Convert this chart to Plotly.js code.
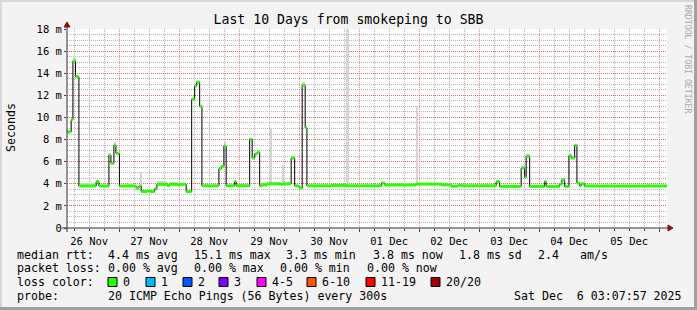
<!DOCTYPE html>
<html><head><meta charset="utf-8">
<script src="https://cdn.plot.ly/plotly-3.0.1.min.js"></script>
<style>html,body{margin:0;padding:0;background:#f3f3f3}</style>
</head><body><div id="chart" style="width:697px;height:310px"></div>
<script>
// hours since 2025-11-26 00:00 (median rtt step starts) and median rtt in ms
const medH = [3.13,4.8,5.5,6.55,7.9,14.8,15.9,19.9,20.7,21.9,22.7,24.1,30.8,31.9,32.8,35.1,36.4,38.2,39.1,43.1,44.3,47.5,48.3,50.8,53.0,54.2,55.0,56.2,57.1,63.9,64.8,65.9,66.8,70.2,70.8,76.2,77.2,78.2,79.2,80.2,81.1,83.1,88.7,89.5,92.8,94.2,95.5,96.3,97.2,98.4,99.1,108.7,114.7,121.5,128.9,130.2,142.8,152.8,156.8,159.5,160.7,174.8,176.2,184.8,186.2,186.8,188.2,194.2,194.8,200.2,201.1,202.2,203.9,204.8,206.2,207.1,208.2,208.8,210.2];
const medV = [8.7,9.8,15.1,13.7,3.8,4.2,3.8,6.6,5.85,7.5,6.75,3.8,3.6,3.8,3.3,3.35,3.3,3.55,3.95,3.85,3.95,3.9,3.95,3.3,11.65,12.85,13.2,11.0,3.82,5.36,5.58,7.42,3.82,4.2,3.82,8.03,6.33,6.7,6.85,3.82,3.9,4.0,3.95,4.0,6.33,3.82,3.75,3.6,12.9,9.06,3.82,3.85,3.82,3.82,4.06,3.9,3.97,3.9,3.78,3.87,3.82,4.2,3.76,5.42,4.58,6.48,3.76,4.2,3.76,3.97,4.36,3.76,6.55,6.33,7.48,4.06,3.8,4.0,3.8];
const endH = 243.13;
// smoke (ping spread) blocks: start hour, end hour, low ms, high ms
const smokeH0 = [5.5,7.9,21.9,27.5,32.3,39.1,44.3,65.9,70.2,71.5,84.2,89.2,97.2,114.9,128.9,137.0,142.9,184.8,186.8,201.1,235.0];
const smokeH1 = [6.55,14.8,22.7,29.0,33.1,43.1,47.5,66.8,70.8,74.7,85.0,90.0,98.4,116.0,130.2,141.0,143.7,186.2,188.2,202.2,236.5];
const smokeLo = [15.0,3.8,7.4,3.8,3.6,3.9,3.9,7.3,4.1,3.8,3.9,3.9,12.8,3.8,4.0,3.9,3.9,5.3,6.4,4.3,3.75];
const smokeHi = [15.4,4.03,7.8,4.05,5.1,4.24,4.15,7.75,4.3,4.0,9.06,5.67,13.2,18.5,4.2,4.06,11.0,5.6,6.65,4.5,4.0];

const yTickVals = [0,2,4,6,8,10,12,14,16,18];
const yTickText = ["0","2 m","4 m","6 m","8 m","10 m","12 m","14 m","16 m","18 m"];

const lossLabels = ["0","1","2","3","4-5","6-10","11-19","20/20"];
const lossColors = ["#26ff00","#00b8ff","#0059ff","#7e00ff","#ff00ff","#ff5500","#ff0000","#a10000"];

const line1 = [["median rtt:",16],["4.4 ms avg",107],["15.1 ms max",193],["3.3 ms min",285],["3.8 ms now",372],["1.8 ms sd",458],["2.4",537],["am/s",579]];
const line2 = [["packet loss:",16],["0.00 % avg",107],["0.00 % max",193],["0.00 % min",279],["0.00 % now",366]];
const line4 = [["probe:",16],["20 ICMP Echo Pings (56 Bytes) every 300s",107],["Sat Dec\u00a0\u00a06 03:07:57 2025",513]];

const BASE = Date.UTC(2025,10,26,0,0,0);
function hd(h){ const d=new Date(BASE+h*3600000); return d.toISOString().replace('T',' ').slice(0,19); }

const stepX = medH.map(hd).concat([hd(endH)]);
const stepY = medV.concat([medV[medV.length-1]]);
const gX=[], gY=[];
for(let i=0;i<medH.length;i++){
  const h1 = i+1<medH.length?medH[i+1]:endH;
  gX.push(hd(medH[i]),hd(h1),null); gY.push(medV[i],medV[i],null);
}
const sX = smokeH0.map((h,i)=>hd((h+smokeH1[i])/2));
const sW = smokeH0.map((h,i)=>(smokeH1[i]-h)*3600000);
const sY = smokeHi.map((v,i)=>v-smokeLo[i]);

const traces = [
  {type:'bar', x:sX, y:sY, base:smokeLo, width:sW, marker:{color:'#d4d4d4', line:{width:0}}, hoverinfo:'skip', showlegend:false},
  {type:'scatter', mode:'lines', x:stepX, y:stepY, line:{shape:'hv', color:'#000', width:1}, hoverinfo:'skip', showlegend:false},
  {type:'scatter', mode:'lines', x:gX, y:gY, line:{color:'#26ff00', width:3}, connectgaps:false, hoverinfo:'skip', showlegend:false}
];

const fx = x => (x-67)/600;
const fy = y => (228-y)/199;
const MONO = 'DejaVu Sans Mono, monospace';

const ann = [];
function txt(t,x,y,opt){ ann.push(Object.assign({text:t, xref:'paper', yref:'paper', x:fx(x), y:fy(y), xanchor:'left', yanchor:'middle', showarrow:false, borderpad:0, font:{family:MONO,size:11.6,color:'#000'}}, opt||{})); }
line1.forEach(p=>txt(p[0],p[1],254.5));
line2.forEach(p=>txt(p[0],p[1],268));
txt("loss color:",16,282);
line4.forEach(p=>txt(p[0],p[1],295.5));
const boxX = [108,146,183,219,257,307,366,431];
const shapes = [];
lossLabels.forEach((l,i)=>{
  shapes.push({type:'rect', xref:'paper', yref:'paper', x0:fx(boxX[i]), x1:fx(boxX[i]+9), y0:fy(286.5), y1:fy(277.5), fillcolor:lossColors[i], line:{color:'#000', width:1}});
  txt(l, boxX[i]+14, 282);
});
ann.push({text:'Seconds', xref:'paper', yref:'paper', x:fx(11), y:fy(128), textangle:-90, showarrow:false, xanchor:'center', yanchor:'middle', font:{family:MONO, size:11.6, color:'#000'}});
ann.push({text:'RRDTOOL / TOBI OETIKER', xref:'paper', yref:'paper', x:fx(688), y:fy(59), textangle:90, showarrow:false, xanchor:'center', yanchor:'middle', font:{family:MONO, size:8.2, color:'#aaaaaa'}});

shapes.push({type:'line', xref:'paper', yref:'paper', x0:fx(62), x1:fx(669), y0:0, y1:0, line:{color:'#333', width:1}, layer:'above'});
shapes.push({type:'line', xref:'paper', yref:'paper', x0:0, x1:0, y0:fy(232), y1:fy(25), line:{color:'#333', width:1}, layer:'above'});
shapes.push({type:'path', xref:'paper', yref:'paper', path:`M ${fx(668)} ${fy(225)} L ${fx(673)} ${fy(228)} L ${fx(668)} ${fy(231)} Z`, fillcolor:'#8b1010', line:{color:'#8b1010', width:1}, layer:'above'});
shapes.push({type:'path', xref:'paper', yref:'paper', path:`M ${fx(64)} ${fy(27)} L ${fx(67)} ${fy(22)} L ${fx(70)} ${fy(27)} Z`, fillcolor:'#8b1010', line:{color:'#8b1010', width:1}, layer:'above'});
shapes.push({type:'rect', xref:'paper', yref:'paper', x0:fx(0), x1:fx(697), y0:fy(0), y1:fy(2), fillcolor:'#d8d8d8', line:{width:0}});
shapes.push({type:'rect', xref:'paper', yref:'paper', x0:fx(0), x1:fx(2), y0:fy(0), y1:fy(310), fillcolor:'#d8d8d8', line:{width:0}});
shapes.push({type:'rect', xref:'paper', yref:'paper', x0:fx(694), x1:fx(697), y0:fy(0), y1:fy(310), fillcolor:'#a0a0a0', line:{width:0}});
shapes.push({type:'rect', xref:'paper', yref:'paper', x0:fx(0), x1:fx(697), y0:fy(307), y1:fy(310), fillcolor:'#a0a0a0', line:{width:0}});

const layout = {
  width:697, height:310, margin:{l:67, r:30, t:29, b:82},
  paper_bgcolor:'#f3f3f3', plot_bgcolor:'#ffffff',
  title:{text:'Last 10 Days from smokeping to SBB', x:0.5, xref:'container', xanchor:'center', y:1-19/310, yref:'container', yanchor:'middle', font:{family:MONO, size:13.2, color:'#000'}},
  showlegend:false, bargap:0,
  xaxis:{type:'date', range:['2025-11-26 03:07:57','2025-12-06 03:07:57'], tick0:'2025-11-26', dtick:86400000,
    ticklabelmode:'period', tickformat:'%d %b', showgrid:true, gridcolor:'rgba(240,60,60,0.6)', griddash:'1px,1px', gridwidth:1,
    ticks:'outside', ticklen:3, tickcolor:'#444', zeroline:false, showline:false, fixedrange:true,
    tickfont:{family:MONO, size:10.5, color:'#000'},
    minor:{dtick:21600000, tick0:'2025-11-26', showgrid:true, gridcolor:'#b4b4b4', griddash:'1px,1px', ticks:'outside', ticklen:2, tickcolor:'#444'}},
  yaxis:{range:[0,18], tickmode:'array', tickvals:yTickVals, ticktext:yTickText, showgrid:true, gridcolor:'rgba(240,60,60,0.6)', griddash:'1px,1px',
    ticks:'outside', ticklen:2, tickcolor:'#444', zeroline:false, showline:false, fixedrange:true,
    tickfont:{family:MONO, size:10.5, color:'#000'},
    minor:{dtick:0.5, tick0:0, showgrid:true, gridcolor:'#b4b4b4', griddash:'1px,1px', ticks:''}},
  annotations:ann, shapes:shapes
};
Plotly.newPlot('chart', traces, layout, {displayModeBar:false, staticPlot:true});
</script></body></html>
